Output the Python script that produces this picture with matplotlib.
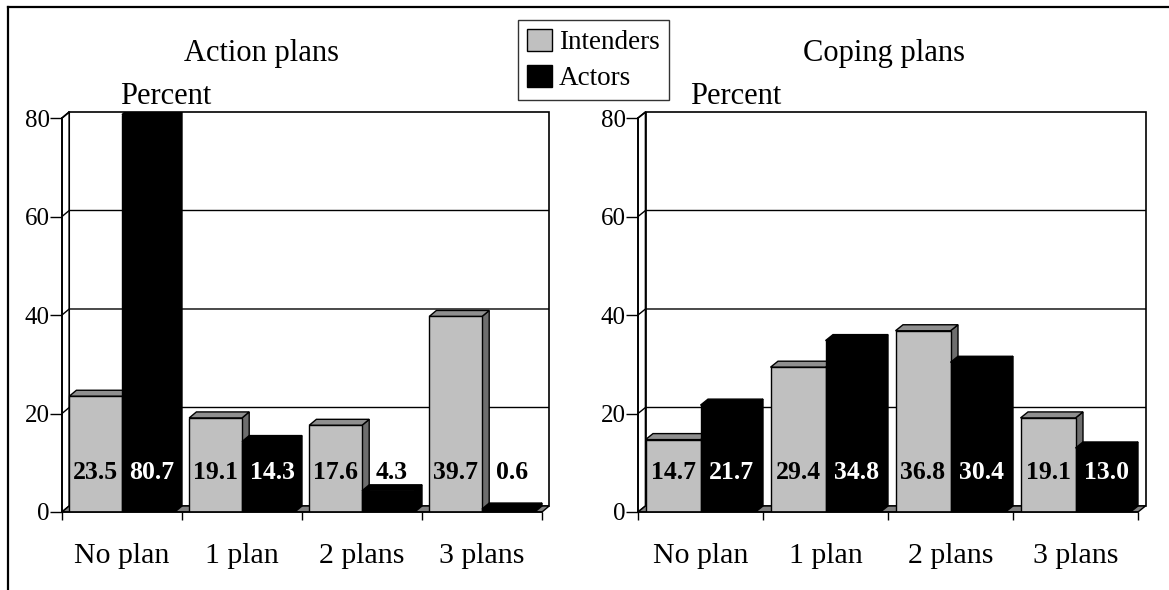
import numpy as np
import matplotlib
matplotlib.use('Agg')
import matplotlib.pyplot as plt
from matplotlib.patches import Polygon, Patch
from matplotlib.lines import Line2D

plt.rcParams['font.family'] = ['Liberation Serif', 'DejaVu Serif']

categories = ['No plan', '1 plan', '2 plans', '3 plans']
series = ['Intenders', 'Actors']

action_intenders = [23.5, 19.1, 17.6, 39.7]
action_actors = [80.7, 14.3, 4.3, 0.6]
coping_intenders = [14.7, 29.4, 36.8, 19.1]
coping_actors = [21.7, 34.8, 30.4, 13.0]

yticks = [0, 20, 40, 60, 80]

# fake 3d look: depth offsets in data units
DX = 0.06
DY = 1.22
GAP = 0.06
W = 0.44

front_col = {'Intenders': '#c0c0c0', 'Actors': '#000000'}
top_col = {'Intenders': '#8f8f8f', 'Actors': '#000000'}
side_col = {'Intenders': '#6e6e6e', 'Actors': '#000000'}


def bar3d(ax, x0, h, name):
    x1 = x0 + W
    kw = dict(edgecolor='black', linewidth=1.0, joinstyle='miter')
    ax.add_patch(Polygon([(x1, 0), (x1 + DX, DY), (x1 + DX, h + DY), (x1, h)],
                         facecolor=side_col[name], zorder=3, **kw))
    ax.add_patch(Polygon([(x0, h), (x1, h), (x1 + DX, h + DY), (x0 + DX, h + DY)],
                         facecolor=top_col[name], zorder=3, **kw))
    ax.add_patch(Polygon([(x0, 0), (x1, 0), (x1, h), (x0, h)],
                         facecolor=front_col[name], zorder=3, **kw))


def panel(ax, intenders, actors, title_x, title):
    n = len(categories)
    ymax = yticks[-1]
    ax.set_xlim(0, n + DX)
    ax.set_ylim(0, ymax + DY)
    for s in ax.spines.values():
        s.set_visible(False)

    # back wall, left wall and floor
    ax.add_patch(Polygon([(DX, DY), (n + DX, DY), (n + DX, ymax + DY), (DX, ymax + DY)],
                         facecolor='white', edgecolor='black', lw=1.2, zorder=1, clip_on=False))
    ax.add_patch(Polygon([(0, 0), (DX, DY), (DX, ymax + DY), (0, ymax)],
                         facecolor='white', edgecolor='black', lw=1.2, zorder=1, clip_on=False))
    for v in yticks[1:-1]:
        ax.plot([0, DX, n + DX], [v, v + DY, v + DY], color='black', lw=1.0, zorder=1)
    ax.plot([0, DX], [ymax, ymax + DY], color='black', lw=1.0, zorder=1, clip_on=False)
    ax.add_patch(Polygon([(0, 0), (n, 0), (n + DX, DY), (DX, DY)],
                         facecolor='#808080', edgecolor='black', lw=1.0, zorder=2, clip_on=False))

    for i in range(n):
        xg = i + GAP
        xa = xg + W
        bar3d(ax, xg, intenders[i], 'Intenders')
        bar3d(ax, xa, actors[i], 'Actors')
        ax.text(xg + W / 2, 8.0, f'{intenders[i]:.1f}', ha='center', va='center',
                fontsize=18.5, fontweight='bold', color='black', zorder=5)
        col = 'white' if actors[i] > 10 else 'black'
        ax.text(xa + W / 2 + DX / 2, 8.0, f'{actors[i]:.1f}', ha='center', va='center',
                fontsize=18.5, fontweight='bold', color=col, zorder=5)

    ax.set_yticks(yticks)
    ax.set_yticklabels([str(v) for v in yticks], fontsize=18)
    ax.tick_params(axis='y', direction='out', length=9, width=1.0, pad=0)
    ax.set_xticks(np.arange(n + 1))
    ax.set_xticklabels([])
    ax.tick_params(axis='x', direction='out', length=6, width=1.0)
    ax.set_xticks(np.arange(n) + 0.5, minor=True)
    ax.set_xticklabels(categories, minor=True, fontsize=21.5)
    ax.tick_params(axis='x', which='minor', length=0, pad=22)
    ax.plot([0, n], [0, 0], color='black', lw=1.2, zorder=4, clip_on=False)
    ax.plot([0, 0], [0, ymax], color='black', lw=1.2, zorder=4, clip_on=False)

    fig.text(title_x / 1169, 1 - 53 / 590, title, ha='center', va='center', fontsize=22)


fig = plt.figure(figsize=(11.69, 5.90), dpi=100)

ax1 = fig.add_axes([62 / 1169, 78 / 590, 4.06 * 120 / 1169, 400 / 590])
ax2 = fig.add_axes([638 / 1169, 78 / 590, 4.06 * 125 / 1169, 400 / 590])

panel(ax1, action_intenders, action_actors, 262, 'Action plans')
panel(ax2, coping_intenders, coping_actors, 884, 'Coping plans')

fig.text(120 / 1169, 1 - 104 / 590, 'Percent', ha='left', va='baseline', fontsize=22)
fig.text(690 / 1169, 1 - 104 / 590, 'Percent', ha='left', va='baseline', fontsize=22)

handles = [Patch(facecolor=front_col[s], edgecolor='black', lw=1.0) for s in series]
leg = fig.legend(handles, series, loc='upper left',
                 bbox_to_anchor=(518 / 1169, 1 - 20 / 590), fontsize=19.5,
                 handlelength=0.92, handleheight=0.9, handletextpad=0.28,
                 labelspacing=0.35, borderpad=0.32, borderaxespad=0,
                 fancybox=False, frameon=True)
leg.get_frame().set_edgecolor('black')
leg.get_frame().set_linewidth(1.0)

# outer frame lines (top and left)
fig.add_artist(Line2D([8 / 1169, 1], [1 - 7 / 590, 1 - 7 / 590], color='black', lw=1.6))
fig.add_artist(Line2D([8 / 1169, 8 / 1169], [0, 1 - 7 / 590], color='black', lw=1.6))

fig.savefig('out.png', dpi=100)
